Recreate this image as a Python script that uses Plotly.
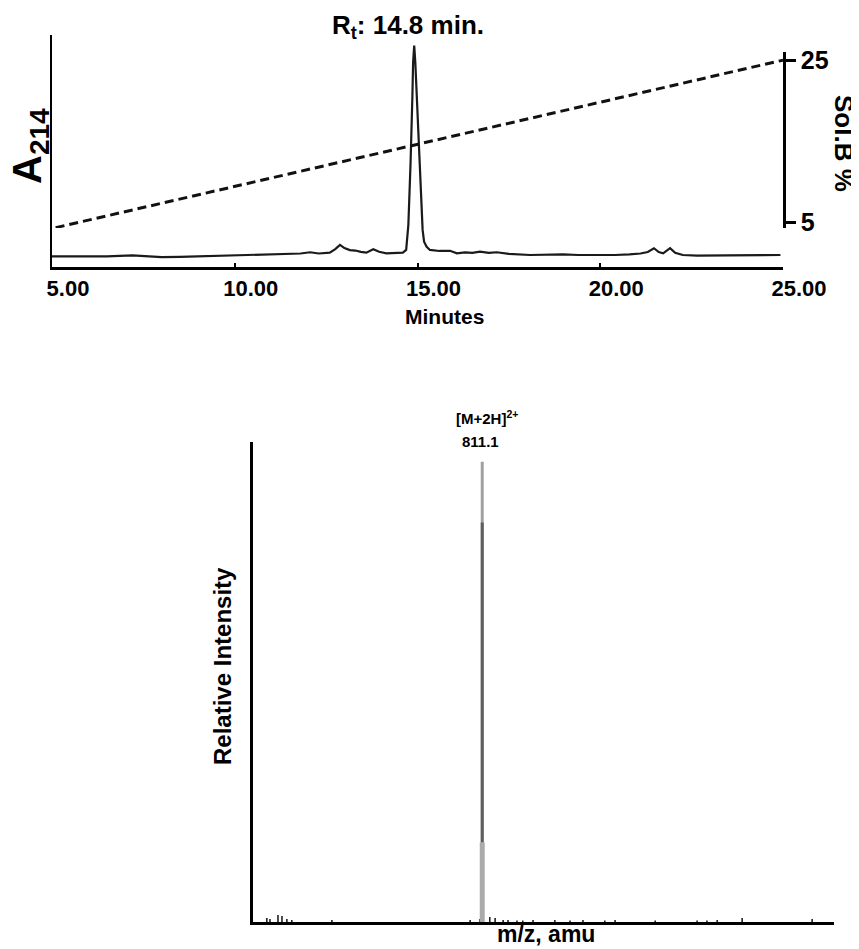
import plotly.graph_objects as go

W, H = 859, 949
PAGE_OFFSET = 8  # browser body margin

# ---------------- Data ----------------
# HPLC chromatogram (A214, normalised to main peak)
hplc_time = [5.0, 5.5, 6.0, 6.5, 7.2, 7.6, 8.0, 8.5, 9.0, 9.5, 10.0, 10.5, 11.0, 11.5, 11.8,
             12.06, 12.3, 12.6, 12.75, 12.88, 13.0, 13.15, 13.3, 13.45, 13.6, 13.79, 13.95,
             14.15, 14.4, 14.6, 14.69, 14.75, 14.81, 14.84, 14.86, 14.88, 14.91, 14.94, 14.98,
             15.01, 15.05, 15.09, 15.14, 15.18, 15.25, 15.34, 15.6, 15.89, 16.08, 16.3, 16.5,
             16.71, 16.95, 17.17, 17.5, 18.08, 18.5, 18.98, 19.4, 19.9, 20.4, 20.8, 21.1, 21.3,
             21.47, 21.6, 21.72, 21.91, 22.05, 22.26, 22.65, 23.5, 24.3, 24.93]
hplc_abs = [0.000, 0.000, -0.002, 0.000, 0.005, 0.000, -0.003, -0.002, 0.000, 0.003, 0.006,
            0.007, 0.009, 0.011, 0.014, 0.020, 0.014, 0.018, 0.035, 0.055, 0.040, 0.030,
            0.028, 0.022, 0.018, 0.034, 0.022, 0.015, 0.016, 0.018, 0.031, 0.15, 0.443, 0.60,
            0.757, 0.92, 1.0, 0.92, 0.757, 0.60, 0.443, 0.26, 0.126, 0.07, 0.046, 0.031,
            0.026, 0.027, 0.015, 0.019, 0.017, 0.023, 0.017, 0.020, 0.012, 0.007, 0.009,
            0.010, 0.007, 0.006, 0.007, 0.010, 0.014, 0.021, 0.039, 0.021, 0.015, 0.039,
            0.017, 0.007, 0.004, 0.005, 0.006, 0.007]

# Solvent B gradient (%)
grad_time = [5.1, 25.0]
grad_solB = [4.3, 25.0]
solB_ticks = [5, 25]

x_ticks = [5, 10, 15, 20, 25]
x_ticktext = ["5.00", "10.00", "15.00", "20.00", "25.00"]

# ESI-MS spectrum (relative intensity %)
ms_main_mz = 811.1
ms_main_int = 100.0
ms_noise_mz = [328, 335, 353, 362, 373, 384, 474, 784, 806, 828, 840, 858, 869, 889, 902,
               925, 974, 1008, 1037, 1086, 1109, 1199, 1293, 1315, 1338, 1394, 1551]
ms_noise_int = [0.86, 0.65, 1.5, 1.3, 0.65, 0.43, 0.43, 0.43, 0.65, 1.08, 0.86, 0.43, 0.43,
                0.32, 0.32, 0.43, 0.43, 0.32, 0.43, 0.32, 0.43, 0.32, 0.32, 0.32, 0.43, 0.86,
                0.65]

# ---------------- helpers ----------------
def px_x(p):
    return (p - PAGE_OFFSET) / W

def px_y(p):
    return 1 - (p - PAGE_OFFSET) / H

def sticks(mz, inten, base=0.0):
    xs, ys = [], []
    for m, i in zip(mz, inten):
        xs += [m, m, None]
        ys += [base, i, None]
    return xs, ys

FONT = "Liberation Sans, Arial, sans-serif"

fig = go.Figure()

# chromatogram
fig.add_trace(go.Scatter(x=hplc_time, y=hplc_abs, mode="lines",
                         line=dict(color="#1a1a1a", width=2.2), xaxis="x", yaxis="y",
                         hoverinfo="skip"))
# gradient
fig.add_trace(go.Scatter(x=grad_time, y=grad_solB, mode="lines",
                         line=dict(color="#111111", width=3, dash="9px,5px"),
                         xaxis="x2", yaxis="y2", hoverinfo="skip"))

# MS noise sticks
nx, ny = sticks(ms_noise_mz, ms_noise_int)
fig.add_trace(go.Scatter(x=nx, y=ny, mode="lines", line=dict(color="#222222", width=1.6),
                         xaxis="x3", yaxis="y3", hoverinfo="skip"))
# main peak rendered in grey shades
mx, my = sticks([ms_main_mz], [ms_main_int])
fig.add_trace(go.Scatter(x=mx, y=my, mode="lines", line=dict(color="#a0a0a0", width=3),
                         xaxis="x3", yaxis="y3", hoverinfo="skip"))
mx2, my2 = sticks([ms_main_mz], [ms_main_int * 0.868], base=ms_main_int * 0.173)
fig.add_trace(go.Scatter(x=mx2, y=my2, mode="lines", line=dict(color="#5e5e5e", width=3),
                         xaxis="x3", yaxis="y3", hoverinfo="skip"))
mx3, my3 = sticks([ms_main_mz], [ms_main_int * 0.173])
fig.add_trace(go.Scatter(x=mx3, y=my3, mode="lines", line=dict(color="#ababab", width=5),
                         xaxis="x3", yaxis="y3", hoverinfo="skip"))

ax_common = dict(showgrid=False, zeroline=False, linecolor="black", automargin=False)

fig.update_layout(
    width=W, height=H,
    margin=dict(l=0, r=0, t=0, b=0, pad=0, autoexpand=False),
    paper_bgcolor="white", plot_bgcolor="rgba(0,0,0,0)",
    showlegend=False,
    font=dict(family=FONT, color="black"),
    xaxis=dict(domain=[px_x(52), px_x(783)], range=[5, 25], anchor="y",
               showline=True, linewidth=2.5, ticks="inside", ticklen=4, tickwidth=1.5,
               tickcolor="black", tickvals=x_ticks, ticktext=x_ticktext,
               tickfont=dict(size=22, weight="bold", family=FONT), ticklabelshift=16,
               ticklabelstandoff=0, **ax_common),
    yaxis=dict(domain=[px_y(267), px_y(35)], range=[-0.05, 1.05], anchor="x",
               showline=True, linewidth=2, ticks="", showticklabels=False, **ax_common),
    xaxis2=dict(domain=[px_x(52), px_x(783)], range=[5, 25], anchor="y2", visible=False,
                overlaying="x", automargin=False),
    yaxis2=dict(domain=[px_y(228), px_y(52)], range=[4.26, 26], anchor="x2", side="right",
                showline=True, linewidth=2.5, ticks="outside", ticklen=10, tickwidth=2.5,
                tickcolor="black", tickvals=solB_ticks,
                tickfont=dict(size=25, weight="bold", family=FONT),
                ticklabelstandoff=0, **ax_common),
    xaxis3=dict(domain=[px_x(253), px_x(834)], range=[297, 1600], anchor="y3",
                showline=True, linewidth=2.5, ticks="", showticklabels=False, **ax_common),
    yaxis3=dict(domain=[px_y(922), px_y(442)], range=[0, 104.3], anchor="x3",
                showline=True, linewidth=2.5, ticks="", showticklabels=False, **ax_common),
)

def ann(text, xp, yp, size, angle=0, xanchor="center", yanchor="middle"):
    fig.add_annotation(text=text, x=px_x(xp), y=px_y(yp), xref="paper", yref="paper",
                       showarrow=False, textangle=angle, xanchor=xanchor, yanchor=yanchor,
                       font=dict(size=size, family=FONT, color="black"))

ann("<b>R<sub>t</sub>: 14.8 min.</b>", 408, 27, 26)
ann("<b>Minutes</b>", 444, 316, 21)
ann("<b>A<sub>214</sub></b>", 30, 146, 40, angle=-90)
ann("<b>Sol.B %</b>", 844, 143, 26, angle=90)
ann("<b>[M+2H]<sup>2+</sup></b>", 487, 417, 15)
ann("<b>811.1</b>", 481, 442, 15)
ann("<b>Relative Intensity</b>", 222, 666, 24, angle=-90)
ann("<b>m/z, amu</b>", 546, 934, 23)

fig.write_html("out.html")
